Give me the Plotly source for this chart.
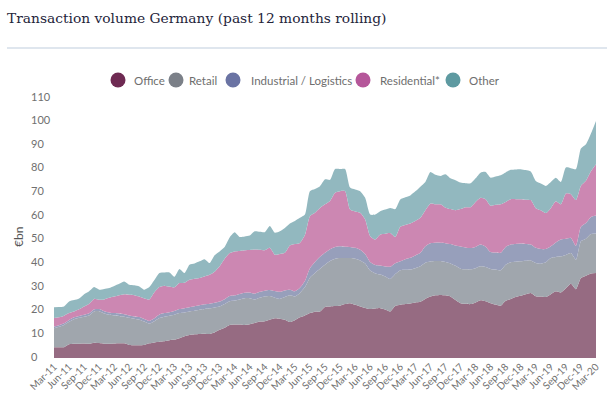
import plotly.graph_objects as go
import pandas as pd

# ---------------- data (EUR bn, 12-month rolling) ----------------
months = [d.strftime("%b-%y") for d in pd.date_range("2011-03-01", "2020-03-01", freq="MS")]

office = [4.5,4.5,4.6,5.8,6.0,6.0,6.1,6.0,6.5,6.3, 6.0,6.0,6.1,6.2,6.2,5.5,5.4,5.4,5.5,6.2,
          6.6,6.9,7.1,7.5,7.8,8.4,9.2,9.7,10.0,10.2, 10.3,10.2,10.8,11.9,12.8,14.0,14.2,14.2,14.0,14.3,
          14.8,15.4,15.6,16.2,16.8,16.6,16.2,15.2,16.0,17.2, 18.0,19.0,19.6,19.7,21.6,21.8,22.0,22.1,22.8,23.2,
          22.5,21.8,21.2,20.7,20.9,21.1,20.5,19.7,22.0,22.5, 22.8,23.1,23.5,23.8,25.0,26.0,26.5,26.7,26.5,26.0,
          24.5,23.2,22.9,22.8,23.5,24.4,24.0,23.2,22.6,22.1, 24.2,25.0,25.8,26.3,27.0,27.5,26.1,26.0,25.8,27.0,
          28.2,27.7,29.5,31.4,29.1,33.8,34.8,35.8,36.0]
retail = [8.1,8.7,9.4,9.5,10.4,11.0,11.4,12.0,13.2,13.5, 12.8,12.3,11.9,11.6,11.3,11.5,11.2,10.8,9.9,8.3,
          8.9,10.0,10.4,10.4,10.5,10.6,10.1,10.0,10.0,10.2, 10.4,10.8,10.6,9.9,10.0,10.0,10.1,10.6,11.3,11.0,
          10.0,10.1,10.4,10.0,8.7,8.4,9.6,11.3,10.0,10.3, 12.0,15.0,16.4,18.1,17.9,19.2,20.0,20.2,19.5,19.1,
          19.5,19.5,18.8,16.3,14.9,14.2,14.0,13.7,13.5,14.6, 14.5,14.3,14.5,15.0,15.3,14.8,14.5,14.3,14.1,14.0,
          14.5,14.6,14.6,14.7,14.5,14.4,14.5,14.5,14.8,15.0, 15.3,15.5,14.9,14.6,14.1,13.8,14.1,13.9,14.7,15.3,
          14.5,15.3,14.1,13.0,12.5,15.6,15.7,16.7,16.7]
industrial = [0.7,0.7,0.7,0.8,0.8,0.8,0.8,0.9,0.9,0.9, 1.0,1.0,1.0,1.0,1.0,1.0,1.0,1.1,1.1,1.2,
              1.3,1.5,1.5,1.5,1.6,1.7,1.8,1.8,1.9,1.9, 2.0,2.0,2.0,2.1,2.1,2.2,2.2,2.3,2.3,2.4,
              2.4,2.5,2.5,2.6,2.8,3.0,2.8,2.4,2.2,2.2, 2.6,4.0,4.6,5.0,5.0,5.0,5.0,5.0,4.8,4.7,
              4.6,4.5,4.0,3.6,3.5,3.8,4.2,5.2,4.6,3.8, 4.5,5.0,5.4,5.7,7.0,7.8,7.8,7.8,8.0,8.2,
              8.6,9.4,9.3,9.0,9.0,9.2,8.6,7.1,7.2,7.4, 7.5,7.5,7.5,7.5,7.1,6.7,6.4,6.2,5.6,5.0,
              6.2,7.1,6.8,6.4,5.9,6.1,6.6,7.2,7.6]
residential = [3.6,3.3,3.2,2.9,2.5,2.8,3.5,4.1,4.4,3.9, 5.0,6.2,7.0,7.8,8.5,8.8,9.0,8.7,8.7,9.1,
               11.0,11.6,11.6,10.8,10.0,11.0,10.7,11.6,11.6,11.5, 11.8,12.2,13.1,14.9,17.1,18.2,18.6,18.2,18.0,18.0,
               18.7,17.8,17.1,17.8,15.4,16.0,15.9,18.7,20.0,19.0, 19.4,22.0,20.9,20.7,20.5,20.4,22.9,23.3,23.5,15.8,
               15.4,15.6,14.6,10.9,10.8,13.1,13.9,14.3,11.1,14.6, 14.5,14.5,14.6,14.8,15.2,16.7,16.2,16.2,15.0,14.8,
               14.9,15.8,17.0,17.3,19.0,19.8,20.1,19.6,20.2,20.5, 19.0,19.2,19.0,18.8,18.8,18.8,16.8,16.4,15.2,16.1,
               17.4,14.9,19.2,18.5,19.3,17.4,17.9,19.3,21.7]
other = [4.6,4.4,3.9,4.9,4.8,4.6,5.2,5.2,5.0,4.3, 4.4,4.1,4.5,4.8,5.4,4.2,4.2,4.3,3.7,5.2,
         5.2,6.0,5.6,6.0,4.5,6.0,4.2,6.4,6.5,7.1, 7.3,5.0,7.0,6.3,5.0,6.6,8.1,5.9,5.8,6.1,
         7.7,7.6,7.6,9.2,9.3,9.6,10.5,9.3,9.8,10.6, 8.7,10.6,10.0,9.2,10.6,9.0,10.1,9.4,9.4,9.3,
         9.3,9.2,9.2,9.2,10.6,9.9,10.2,10.6,11.8,11.6, 11.7,11.9,12.5,13.2,12.0,13.4,12.5,12.0,14.1,13.0,
         12.7,11.2,10.1,10.1,10.0,10.6,11.5,11.9,12.0,12.3, 12.5,12.4,12.6,12.7,12.5,12.1,11.5,11.3,11.5,11.1,
         10.0,9.5,11.0,11.0,13.1,15.7,15.4,16.0,18.3]

series_names = ["Office", "Retail", "Industrial / Logistics", "Residential*", "Other"]
series_values = [office, retail, industrial, residential, other]
fill_colors = ["#966b82", "#a0a6ad", "#979fbb", "#cc87b2", "#92b8bf"]
legend_colors = ["#6e2a52", "#7b8088", "#6a73a3", "#b5579a", "#5e9aa1"]

y_ticks = [0, 10, 20, 30, 40, 50, 60, 70, 80, 90, 100, 110]
x_ticks = months[::3]

# ---------------- layout helpers ----------------
W, H = 607, 398
L, R, T, B = 54, 11, 98, 40
PW, PH = W - L - R, H - T - B


def px2x(px):
    return (px - L) / PW


def py2y(py):
    return (H - B - py) / PH


fig = go.Figure()
for name, vals, col in zip(series_names, series_values, fill_colors):
    fig.add_trace(go.Scatter(
        x=months, y=vals, name=name, mode="lines", stackgroup="one",
        line=dict(width=0, shape="spline", smoothing=0.6, color=col),
        fillcolor=col, showlegend=False, hoverinfo="x+y+name"))

font_axis = "Lato, 'Open Sans', sans-serif"

fig.update_layout(
    width=W, height=H,
    margin=dict(l=L, r=R, t=T, b=B),
    paper_bgcolor="white", plot_bgcolor="white",
    showlegend=False,
    title=dict(text="Transaction volume Germany (past 12 months rolling)",
               x=7 / W, xanchor="left", xref="container",
               y=1 - 18 / H, yanchor="middle", yref="container",
               font=dict(family="DejaVu Serif, serif", size=13.8, color="#24243a")),
    xaxis=dict(type="category", range=[0, len(months) - 1],
               tickmode="array", tickvals=x_ticks, ticktext=x_ticks,
               tickangle=-45, tickfont=dict(family=font_axis, size=10, color="#707070"),
               showgrid=False, zeroline=False, showline=False, ticks="",
               automargin=False),
    yaxis=dict(range=[0, 110], showticklabels=False, showgrid=False,
               zeroline=False, showline=False, ticks="", automargin=False),
)

# separator line under the title
fig.add_shape(type="line", xref="paper", yref="paper",
              x0=px2x(7), x1=px2x(607), y0=py2y(48), y1=py2y(48),
              line=dict(color="#dfe6ee", width=2))

# y tick labels (left aligned, as in reference)
for v in y_ticks:
    fig.add_annotation(x=px2x(29), xref="paper", y=v, yref="y", yshift=2,
                       text=str(v), showarrow=False, xanchor="left", yanchor="middle",
                       font=dict(family=font_axis, size=11, color="#707070"))

# y axis title
fig.add_annotation(x=px2x(18), xref="paper", y=py2y(237), yref="paper",
                   text="€bn", textangle=-90, showarrow=False,
                   xanchor="center", yanchor="middle",
                   font=dict(family=font_axis, size=12, color="#555555"))

# custom legend: circles + labels
legend_cx = [118, 176, 233, 363, 453]
legend_tx = [132, 187, 249, 378, 467]
legend_cy = 80
rad = 7.5
for name, col, cx, tx in zip(series_names, legend_colors, legend_cx, legend_tx):
    fig.add_shape(type="circle", xref="paper", yref="paper",
                  x0=px2x(cx - rad), x1=px2x(cx + rad),
                  y0=py2y(legend_cy + rad), y1=py2y(legend_cy - rad),
                  fillcolor=col, line=dict(width=0))
    fig.add_annotation(x=px2x(tx), xref="paper", y=py2y(legend_cy), yref="paper",
                       text=name, showarrow=False, xanchor="left", yanchor="middle",
                       font=dict(family=font_axis, size=11.5, color="#6e6e6e"))

fig.write_html("out.html",
               config={"displayModeBar": False},
               post_script="document.body.style.margin='0';document.body.style.overflow='hidden';")
